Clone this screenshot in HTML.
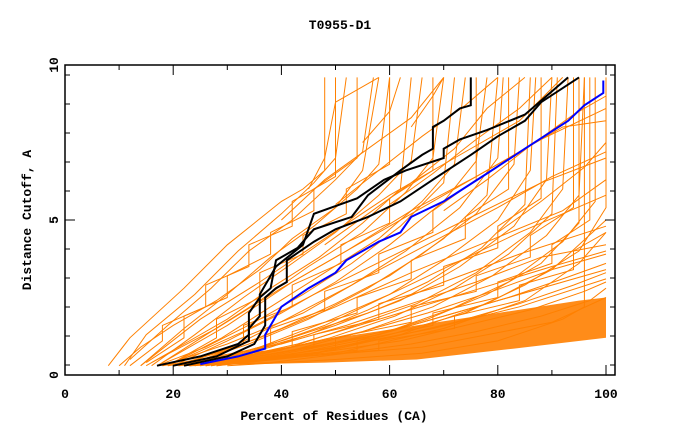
<!DOCTYPE html>
<html><head><meta charset="utf-8"><style>
body{margin:0;background:#fff;}
svg text{font-family:"Liberation Mono","DejaVu Sans Mono",monospace;font-weight:bold;font-size:13px;fill:#000;}
</style></head><body>
<svg id="chart" width="680" height="440" xmlns="http://www.w3.org/2000/svg" font-family="Liberation Mono, monospace">
<text x="340" y="29" text-anchor="middle" font-family="Liberation Mono, monospace">T0955-D1</text>
<text x="334" y="420" text-anchor="middle" font-family="Liberation Mono, monospace">Percent of Residues (CA)</text>
<text transform="translate(31,220) rotate(-90)" text-anchor="middle" font-family="Liberation Mono, monospace">Distance Cutoff, A</text>
<g id="marks"></g>
<g id="axes"></g>
</svg>
<script>
const xTicks=[0,20,40,60,80,100];
const yTicks=[0,5,10];
const bandLower=[[22,0.3],[48,0.4],[65,0.5],[83,0.85],[100,1.2]];
const bandUpper=[[22,0.4],[35,0.7],[50,1.2],[65,1.6],[80,2.0],[95,2.4],[100,2.5]];
const orangeSeries=[
 [[8,0.3],[12,1.2],[22,2.8],[30,4.2],[40,5.6],[44,6.0],[48,6.6],[48,9.6]],
 [[11,0.3],[15,1.3],[24,2.6],[32,4.0],[40,5.2],[46,6.2],[50,7.0],[52,9.6]],
 [[12,0.5],[19,1.6],[27,2.8],[34,4.0],[42,5.0],[50,6.3],[55,7.2],[57,9.6]],
 [[14,0.3],[22,1.5],[30,2.6],[38,3.8],[46,4.8],[54,6.0],[58,6.8],[60,9.6]],
 [[16,0.3],[24,1.3],[33,2.5],[42,3.6],[50,4.6],[58,5.8],[64,6.9],[66,9.6]],
 [[18,0.4],[27,1.4],[36,2.4],[45,3.5],[55,4.6],[63,5.9],[68,7.0],[70,9.6]],
 [[19,0.3],[29,1.2],[38,2.2],[48,3.3],[58,4.4],[66,5.6],[72,6.8],[74,9.6]],
 [[20,0.3],[30,1.1],[40,2.0],[50,3.0],[60,4.2],[70,5.6],[76,6.9],[78,9.6]],
 [[21,0.3],[32,1.0],[42,1.9],[53,2.9],[63,4.0],[73,5.4],[80,7.0],[81,9.6]],
 [[22,0.3],[34,1.0],[45,1.8],[56,2.8],[66,3.9],[76,5.2],[83,6.8],[84,9.6]],
 [[23,0.3],[36,0.9],[48,1.7],[60,2.6],[70,3.7],[80,5.0],[86,6.6],[87,9.6]],
 [[24,0.3],[38,0.9],[50,1.6],[62,2.4],[73,3.5],[83,4.8],[89,6.3],[90,9.6]],
 [[25,0.3],[40,0.8],[52,1.5],[65,2.3],[76,3.3],[86,4.6],[92,6.0],[93,9.6]],
 [[26,0.3],[42,0.8],[55,1.4],[68,2.2],[79,3.2],[89,4.5],[95,5.8],[96,9.6]],
 [[27,0.3],[44,0.8],[58,1.3],[71,2.1],[82,3.0],[92,4.3],[98,5.6],[98,9.6]],
 [[28,0.3],[46,0.7],[60,1.3],[74,2.0],[85,2.9],[95,4.0],[100,5.4],[100,9.6]],
 [[10,0.3],[14,0.9],[20,1.6],[28,2.4],[36,3.4],[42,4.4],[50,5.4],[55,6.6],[58,9.6]],
 [[15,0.3],[22,1.0],[30,1.8],[38,2.8],[47,3.8],[55,4.9],[62,6.0],[64,9.6]],
 [[17,0.3],[26,0.9],[35,1.7],[44,2.6],[53,3.6],[62,4.8],[70,6.2],[72,9.6]],
 [[20,0.3],[30,0.8],[40,1.5],[50,2.3],[60,3.2],[70,4.4],[78,5.8],[80,9.6]],
 [[22,0.3],[33,0.7],[45,1.3],[56,2.1],[67,3.0],[77,4.1],[85,5.5],[86,9.6]],
 [[24,0.3],[37,0.7],[49,1.2],[61,1.9],[72,2.8],[82,3.9],[90,5.2],[91,9.6]],
 [[26,0.3],[40,0.6],[54,1.1],[67,1.8],[78,2.6],[88,3.6],[95,4.9],[95,9.6]],
 [[18,0.3],[28,0.6],[40,1.0],[52,1.6],[64,2.3],[76,3.0],[88,3.8],[100,4.2]],
 [[19,0.3],[30,0.6],[42,0.9],[55,1.4],[67,2.0],[79,2.7],[90,3.4],[100,3.9]],
 [[20,0.3],[32,0.5],[45,0.9],[58,1.3],[70,1.9],[82,2.5],[92,3.1],[100,3.6]],
 [[21,0.3],[34,0.5],[47,0.8],[60,1.2],[72,1.7],[84,2.3],[94,2.9],[100,3.3]],
 [[22,0.3],[36,0.5],[50,0.8],[62,1.1],[74,1.6],[86,2.1],[96,2.7],[100,3.0]],
 [[22,0.3],[37,0.5],[51,0.7],[64,1.0],[76,1.4],[88,1.9],[97,2.4],[100,2.8]],
 [[23,0.3],[38,0.4],[52,0.7],[66,0.9],[78,1.3],[90,1.7],[100,2.5]],
 [[30,0.3],[50,0.5],[66,0.7],[80,1.1],[92,1.8],[96,2.2],[96,9.6]],
 [[20,0.3],[35,0.8],[48,1.6],[60,2.6],[72,3.6],[84,4.6],[92,5.2],[100,5.8]],
 [[18,0.3],[30,1.0],[44,2.0],[56,3.2],[68,4.3],[80,5.4],[90,6.4],[100,7.2]],
 [[16,0.4],[28,1.5],[40,2.8],[52,4.0],[64,5.3],[76,6.4],[88,7.6],[100,8.6]],
 [[14,0.3],[25,1.8],[36,3.0],[48,4.4],[60,5.8],[72,7.0],[84,8.2],[92,9.6]],
 [[28,0.3],[50,0.7],[70,1.5],[85,2.4],[95,3.6],[100,4.6]],
 [[23,0.3],[44,0.6],[62,1.3],[78,2.3],[90,3.4],[100,5.0]],
 [[45,6.0],[48,7.0],[50,8.8],[58,9.6]],
 [[55,7.5],[60,8.5],[62,9.6]],
 [[64,8.0],[68,9.0],[70,9.6]],
 [[12,0.3],[18,1.1],[18,1.6],[26,2.2],[26,2.9],[34,3.5],[34,4.2],[42,4.8],[42,5.6],[50,6.4],[50,9.6]],
 [[15,0.4],[22,1.2],[22,1.9],[30,2.5],[30,3.2],[38,3.9],[38,4.6],[46,5.3],[46,6.0],[54,7.0],[54,9.6]],
 [[20,0.4],[28,1.2],[28,1.8],[36,2.5],[36,3.3],[44,3.9],[44,4.5],[52,5.2],[52,6.0],[60,6.8],[60,9.6]],
 [[24,0.4],[33,1.0],[33,1.6],[42,2.2],[42,2.9],[51,3.6],[51,4.2],[60,4.9],[60,5.7],[68,6.6],[68,9.6]],
 [[26,0.4],[38,1.0],[38,1.5],[48,2.1],[48,2.7],[58,3.3],[58,3.9],[68,4.6],[68,5.3],[76,6.3],[76,9.6]],
 [[27,0.4],[42,0.9],[42,1.4],[54,2.0],[54,2.5],[64,3.1],[64,3.7],[74,4.4],[74,5.1],[82,6.0],[82,9.6]],
 [[28,0.4],[46,0.9],[46,1.3],[58,1.8],[58,2.3],[70,2.9],[70,3.5],[80,4.1],[80,4.8],[88,5.7],[88,9.6]],
 [[29,0.4],[50,0.8],[50,1.2],[64,1.7],[64,2.2],[76,2.7],[76,3.2],[86,3.8],[86,4.5],[94,5.4],[94,9.6]],
 [[30,0.4],[54,0.8],[54,1.1],[68,1.6],[68,2.0],[80,2.5],[80,3.0],[90,3.6],[90,4.2],[97,5.0],[97,9.6]],
 [[31,0.4],[58,0.8],[58,1.1],[72,1.5],[72,1.9],[84,2.4],[84,2.9],[94,3.4],[94,4.0],[100,4.6]],
 [[24,0.3],[40,1.1],[56,2.0],[70,3.0],[84,3.9],[100,4.8]],
 [[25,0.3],[43,1.0],[60,1.9],[75,2.7],[90,3.5],[100,4.0]],
 [[26,0.3],[46,0.9],[64,1.6],[80,2.4],[100,3.4]],
 [[27,0.3],[50,0.9],[68,1.5],[84,2.2],[100,3.1]],
 [[21,0.3],[36,1.2],[50,2.2],[64,3.3],[78,4.3],[92,5.3],[100,6.3]],
 [[19,0.3],[33,1.4],[46,2.6],[60,3.8],[74,5.0],[88,6.2],[100,7.0]],
 [[17,0.3],[30,1.6],[42,3.0],[55,4.3],[68,5.6],[80,6.8],[92,8.0],[100,8.2]],
 [[40,5.0],[48,6.3],[56,7.3],[64,8.3],[70,9.6]],
 [[50,5.5],[58,6.6],[66,7.7],[74,8.7],[80,9.6]],
 [[60,5.5],[68,6.5],[76,7.6],[84,8.6],[90,9.6]],
 [[70,5.3],[78,6.3],[86,7.4],[94,8.4],[100,9.0]],
 [[80,4.6],[88,5.6],[96,6.7],[100,7.5]],
 [[48,4.2],[56,5.2],[64,6.2],[72,7.3],[78,8.6],[85,9.6]]
];
const blueSeries=[[25,0.35],[32,0.6],[37,0.85],[37,1.3],[40,2.2],[45,2.8],[50,3.3],[52,3.7],[58,4.3],[62,4.6],[64,5.1],[70,5.6],[78,6.5],[85,7.3],[93,8.2],[96,8.7],[99.5,9.1],[99.5,9.5]];
const blackSeries=[
 [[17,0.3],[25,0.6],[32,1.0],[34,1.3],[34,2.0],[36,2.5],[38,2.8],[39,3.7],[43,4.1],[46,4.7],[53,5.1],[56,5.8],[62,6.6],[66,7.1],[68,7.3],[68,8.0],[70,8.2],[73,8.6],[75,8.7],[75,9.6]],
 [[22,0.3],[30,0.6],[35,1.0],[37,1.6],[37,2.5],[39,2.8],[41,3.0],[41,3.7],[46,4.3],[50,4.7],[56,5.1],[62,5.6],[68,6.3],[75,7.1],[80,7.7],[85,8.2],[88,8.8],[95,9.6]],
 [[20,0.3],[28,0.6],[34,1.1],[34,1.5],[36,1.9],[36,2.6],[39,3.5],[44,4.2],[46,5.2],[54,5.7],[59,6.3],[63,6.6],[70,7.0],[70,7.3],[73,7.6],[78,7.9],[85,8.4],[93,9.6]]
];
const NS='http://www.w3.org/2000/svg';
const L=65,R=615,T=65,B=375;
function xs(v){return 65+5.41*v;}
function ys(v){return 375-31*v;}
const marks=document.getElementById('marks');
const band=document.createElementNS(NS,'polygon');
band.setAttribute('points',bandLower.concat(bandUpper.slice().reverse()).map(d=>xs(d[0]).toFixed(1)+','+ys(d[1]).toFixed(1)).join(' '));
band.setAttribute('fill','#ff8000');
band.setAttribute('fill-opacity','0.9');


marks.appendChild(band);
function drawLine(pts,color,w,name){
 const p=document.createElementNS(NS,'polyline');
 p.setAttribute('points',pts.map(d=>xs(d[0]).toFixed(1)+','+ys(d[1]).toFixed(1)).join(' '));
 p.setAttribute('fill','none');p.setAttribute('stroke',color);p.setAttribute('stroke-width',w);
 
 
 marks.appendChild(p);
}
orangeSeries.forEach((s,i)=>drawLine(s,'#ff8000',1,'model-line-'+i));
blackSeries.forEach((s,i)=>drawLine(s,'#000',2,'top-model-line-'+i));
drawLine(blueSeries,'#0000ff',2,'target-line');
const axes=document.getElementById('axes');
function el(tag,attrs){const e=document.createElementNS(NS,tag);for(const k in attrs)e.setAttribute(k,attrs[k]);axes.appendChild(e);return e;}
const box=el('rect',{x:L,y:T,width:R-L,height:B-T,fill:'none',stroke:'#000','stroke-width':1.5});


xTicks.forEach(v=>{
 const x=xs(v);
 const t=el('line',{x1:x,x2:x,y1:B,y2:B-10,stroke:'#000'});
 
 
 const t2=el('line',{x1:x,x2:x,y1:T,y2:T+10,stroke:'#000'});
 
 
 const lb=el('text',{x:x,y:398,'text-anchor':'middle','font-family':'Liberation Mono, monospace'});lb.textContent=v;
 
 
 if(v<100){const m=xs(v+10);
  const mt=el('line',{x1:m,x2:m,y1:B,y2:B-5,stroke:'#000'});
  
  
  const mt2=el('line',{x1:m,x2:m,y1:T,y2:T+5,stroke:'#000'});
  
  }
});
const yLabelPos={0:375,5:220,10:65};
yTicks.forEach(v=>{
 const lb=el('text',{x:0,y:4,'text-anchor':'middle',transform:'translate(54,'+yLabelPos[v]+') rotate(-90)','font-family':'Liberation Mono, monospace'});
 lb.textContent=v;
 
 
});
for(let y=75;y<375;y+=29){
 const major=Math.abs(y-220)<2;
 const t=el('line',{x1:L,x2:L+(major?10:5),y1:y,y2:y,stroke:'#000'});
 
 
 const t2=el('line',{x1:R,x2:R-(major?10:5),y1:y,y2:y,stroke:'#000'});
 
 
}
</script>
</body></html>
